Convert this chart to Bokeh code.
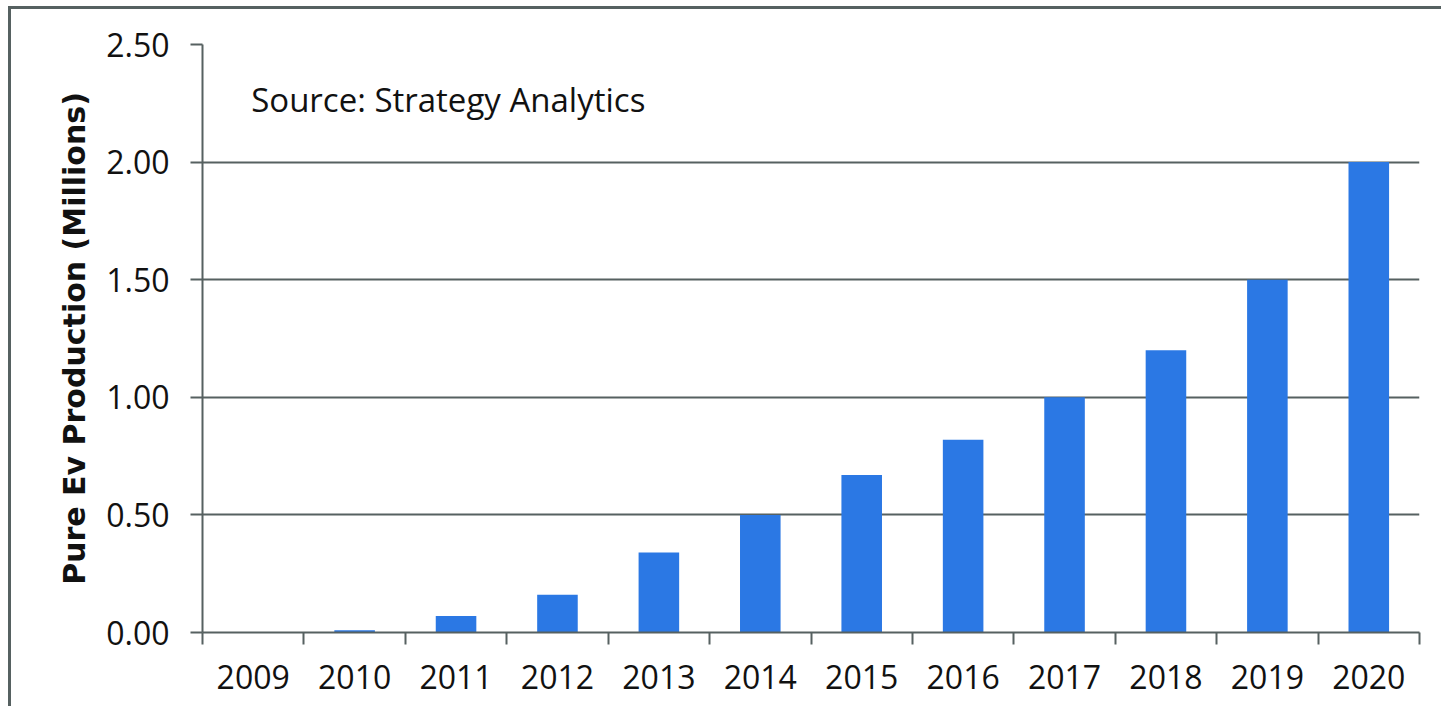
from bokeh.plotting import figure
from bokeh.models import Range1d, FixedTicker, Label, NumeralTickFormatter, ColumnDataSource
from bokeh.embed import file_html
from bokeh.resources import INLINE

years = ["2009", "2010", "2011", "2012", "2013", "2014", "2015", "2016", "2017", "2018", "2019", "2020"]
production = [0.0, 0.01, 0.07, 0.16, 0.34, 0.50, 0.67, 0.82, 1.00, 1.20, 1.50, 2.00]
y_ticks = [0.0, 0.5, 1.0, 1.5, 2.0, 2.5]
y_label = "Pure Ev Production (Millions)"
source_note = "Source: Strategy Analytics"

idx = list(range(len(years)))
src = ColumnDataSource(dict(x=idx, top=production, year=years))

GRID = "#566161"
BLUE = "#2B78E4"
TXT = "#111111"

p = figure(width=1433, height=700, output_backend="svg", toolbar_location=None,
           x_range=Range1d(-0.5, len(years) - 0.5), y_range=Range1d(0, 2.5),
           min_border_left=191, min_border_right=25, min_border_top=35, min_border_bottom=77)
p.styles = {"margin-left": "8px", "margin-top": "6px",
            "border-top": "3px solid #566161", "border-left": "3px solid #566161"}
p.outline_line_color = None
p.background_fill_color = "white"
p.border_fill_color = "white"

p.vbar(x="x", top="top", width=0.4, bottom=0, source=src, fill_color=BLUE, line_color=None)

# y axis
ya = p.yaxis[0]
ya.ticker = FixedTicker(ticks=y_ticks)
ya.formatter = NumeralTickFormatter(format="0.00")
ya.axis_line_color = GRID
ya.axis_line_width = 2
ya.major_tick_line_color = GRID
ya.major_tick_line_width = 2
ya.major_tick_out = 12
ya.major_tick_in = 0
ya.minor_tick_line_color = None
ya.major_label_text_font = "Open Sans"
ya.major_label_text_font_size = "32px"
ya.major_label_text_color = TXT
ya.major_label_standoff = 21
ya.axis_label = y_label
ya.axis_label_text_font = "DejaVu Sans"
ya.axis_label_text_font_style = "bold"
ya.axis_label_text_font_size = "30px"
ya.axis_label_text_color = TXT
ya.axis_label_standoff = 11

# x axis
xa = p.xaxis[0]
xa.ticker = FixedTicker(ticks=idx, minor_ticks=[i - 0.5 for i in range(len(years) + 1)])
xa.major_label_overrides = {i: y for i, y in zip(idx, years)}
xa.axis_line_color = GRID
xa.axis_line_width = 2
xa.major_tick_line_color = None
xa.major_tick_out = 0
xa.major_tick_in = 0
xa.minor_tick_line_color = GRID
xa.minor_tick_line_width = 2
xa.minor_tick_out = 12
xa.minor_tick_in = 0
xa.major_label_text_font = "Open Sans"
xa.major_label_text_font_size = "32px"
xa.major_label_text_color = TXT
xa.major_label_standoff = 20

p.xgrid.grid_line_color = None
p.ygrid.ticker = FixedTicker(ticks=y_ticks)
p.ygrid.grid_line_color = GRID
p.ygrid.grid_line_width = 2

p.add_layout(Label(x=-0.02, y=2.266, text=source_note, text_font="Open Sans",
                   text_font_size="33px", text_color=TXT, text_baseline="alphabetic"))

open("out.html", "w").write(file_html(p, INLINE))
